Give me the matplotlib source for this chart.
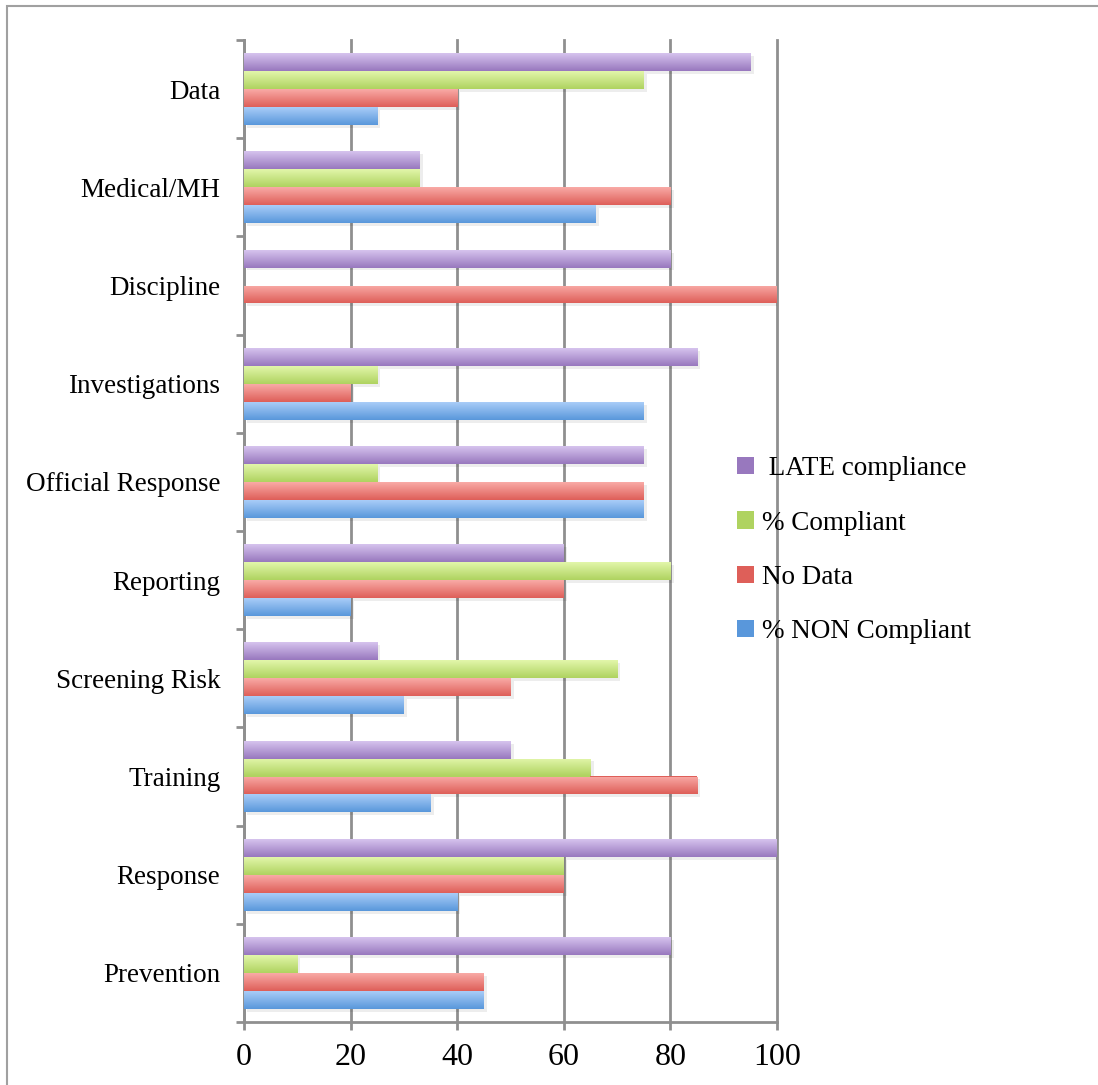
import numpy as np
import matplotlib
matplotlib.use('Agg')
import matplotlib.pyplot as plt
from matplotlib.patches import Patch, Rectangle
from matplotlib.colors import LinearSegmentedColormap

plt.rcParams['font.family'] = ['Liberation Serif', 'DejaVu Serif']

## data (bottom to top, like the original chart)
categories = ['Prevention', 'Response', 'Training', 'Screening Risk', 'Reporting',
              'Official Response', 'Investigations', 'Discipline', 'Medical/MH', 'Data']
non_compliant = [45, 40, 35, 30, 20, 75, 75, 0, 66, 25]
no_data = [45, 60, 85, 50, 60, 75, 20, 100, 80, 40]
compliant = [10, 60, 65, 70, 80, 25, 25, 0, 33, 75]
late = [80, 100, 50, 25, 60, 75, 85, 80, 33, 95]

series_names = ['% NON Compliant', 'No Data', '% Compliant', ' LATE compliance']
# (top colour, bottom colour) for the gradient
series_colors = [('#a9cdf8', '#5997db'),
                 ('#f9aaa6', '#de5f59'),
                 ('#e2f6aa', '#afd360'),
                 ('#d6c3ee', '#9878be')]

fig = plt.figure(figsize=(10.98, 10.85), dpi=100)
ax = fig.add_axes([244/1098, 1-1022/1085, (777-244)/1098, (1022-40)/1085])

# frame line of the pasted picture
fig.add_artist(Rectangle((7/1098, -0.1), 1.2, 1-6/1085+0.1, transform=fig.transFigure,
                         fill=False, edgecolor='#a0a0a0', linewidth=1.5))

y = np.arange(len(categories))
h = 0.183
all_vals = [non_compliant, no_data, compliant, late]
grad = np.linspace(0, 1, 64).reshape(-1, 1)
for i, vals in enumerate(all_vals):
    off = (i - 1.5) * h
    top_c, bot_c = series_colors[i]
    cmap = LinearSegmentedColormap.from_list('g%d' % i, [top_c, bot_c])
    # soft shadow under each bar
    ax.barh(y + off - 0.03, vals, height=h, left=0.6, color='black', alpha=0.07,
            linewidth=0, zorder=2)
    bars = ax.barh(y + off, vals, height=h, color=bot_c, linewidth=0, zorder=3)
    for b in bars:
        if b.get_width() <= 0:
            continue
        x0, y0 = b.get_x(), b.get_y()
        im = ax.imshow(grad, cmap=cmap, aspect='auto', origin='upper',
                       extent=[x0, x0 + b.get_width(), y0, y0 + b.get_height()],
                       zorder=4, interpolation='bilinear')
        im.set_clip_path(b)

ax.set_xlim(0, 100)
ax.set_ylim(-0.5, len(categories) - 0.5)
ax.set_xticks([0, 20, 40, 60, 80, 100])
ax.set_yticks(y)
ax.set_yticklabels(categories)
ax.set_yticks(np.arange(-0.5, len(categories)), minor=True)

ax.set_axisbelow(True)
ax.xaxis.grid(True, color='#8f8f8f', linewidth=2)
for gl in ax.get_xgridlines():
    gl.set_clip_on(False)
for s in ['top', 'right']:
    ax.spines[s].set_visible(False)
for s in ['left', 'bottom']:
    ax.spines[s].set_color('#8f8f8f')
    ax.spines[s].set_linewidth(2)

ax.tick_params(axis='y', which='major', length=0, pad=17, labelsize=19.5)
ax.tick_params(axis='y', which='minor', length=6, width=2, color='#8f8f8f', direction='out')
ax.tick_params(axis='x', length=6, width=2, color='#8f8f8f', pad=9, labelsize=23)

handles = [Patch(facecolor=series_colors[i][1], edgecolor='none') for i in range(4)][::-1]
fig.legend(handles, series_names[::-1], loc='upper left',
           bbox_to_anchor=(713/1098, 1-432/1085), frameon=False,
           fontsize=19.5, handlelength=0.6, handleheight=0.6, handletextpad=0.3,
           labelspacing=1.08)

fig.savefig('out.png', dpi=100)
